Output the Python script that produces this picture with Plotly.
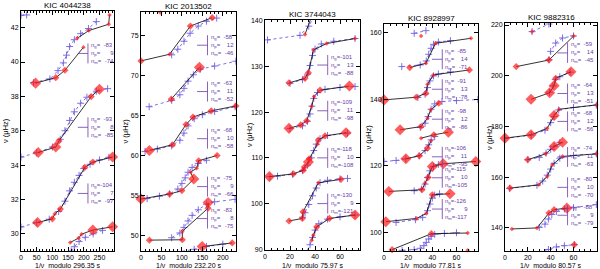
import plotly.graph_objects as go

W, H = 600, 269

# ---------------- data ----------------
titles = ["KIC 4044238", "KIC 2013502", "KIC 3744043", "KIC 8928997", "KIC 9882316"]
periods = ["296.35", "232.20", "75.97", "77.81", "80.57"]
x_max = [296.35, 232.20, 75.97, 77.81, 80.57]
y_lo = [29.0, 48.04, 89.85, 94.4, 130.9]
y_hi = [42.97, 77.96, 140.15, 162.6, 220.8]

# Panel 1  (KIC 4044238)
p1_obs_x = [[46.5, 110.8, 140, 199], [179, 216, 279.5, 282],
            [54.8, 110.8, 121, 223.7, 250],
            [52.8, 100, 107.6, 125.5, 203.5, 229, 292],
            [157, 183.5, 193, 229, 292]]
p1_obs_y = [[38.77, 39.09, 39.52, 40.86], [41.38, 41.83, 42.2, 42.74],
            [34.73, 35.05, 35.41, 37.99, 38.42],
            [30.66, 30.87, 31.16, 31.44, 33.87, 34.18, 34.47],
            [29.5, 29.75, 29.98, 30.22, 30.41]]
p1_obs_a = [[3, 2, 2, 1], [1, 1, 1, 1], [3, 3, 2, 2, 3], [3, 2, 1, 2, 2, 2, 3], [1, 1, 1, 3, 3]]
p1_mod_x = [[40, 92, 118, 135, 145, 155, 170, 190, 215, 240], [0, 18],
            [0, 50, 100, 125, 140, 155, 170, 190, 210, 240, 276],
            [0, 50, 90, 120, 140, 155, 170, 185, 200, 220, 250, 280],
            [160, 170, 185, 205, 230, 260]]
p1_mod_y = [[38.8, 39.02, 39.5, 39.95, 40.4, 40.9, 41.3, 41.65, 41.95, 42.35], [42.72, 42.74],
            [34.47, 34.72, 35.05, 35.5, 36.0, 36.6, 37.1, 37.6, 37.95, 38.3, 38.45],
            [30.4, 30.65, 30.85, 31.3, 31.9, 32.5, 33.0, 33.4, 33.8, 34.05, 34.3, 34.45],
            [29.0, 29.25, 29.55, 29.8, 30.0, 30.2]]
p1_lab_y = [40.5, 36.2, 32.35]
p1_ng = [-83, -93, -104]
p1_np = [9, 8, 7]
p1_nm = [-74, -85, -97]

# Panel 2  (KIC 2013502)
p2_obs_x = [[0, 69.8, 120.7, 174], [47], [73.9, 142.8],
            [20.5, 77, 110, 127, 171.6, 232],
            [0, 69.8, 100, 129, 121, 136, 141, 186],
            [20.5, 101, 101, 164, 164], [149.5, 223]]
p2_obs_y = [[71.84, 72.67, 76.2, 77.25], [77.9], [67.05, 71.05],
            [60.63, 61.34, 63.88, 64.8, 65.59, 66.2],
            [54.55, 55.17, 55.6, 57.05, 57.9, 58.4, 59.34, 60.0],
            [49.4, 49.45, 50.5, 53.4, 54.1], [48.6, 49.05]]
p2_obs_a = [[2, 1, 2, 2], [1], [2, 3], [3, 2, 2, 2, 2, 2], [3, 2, 2, 3, 1, 1, 2, 2],
            [2, 2, 1, 2, 3], [3, 2]]
p2_mod_x = [[75, 90, 105, 120, 140, 160, 185],
            [20, 75, 95, 105, 115, 128, 145, 180, 232],
            [10, 40, 75, 95, 105, 115, 130, 150, 180, 230],
            [15, 45, 70, 90, 100, 108, 115, 125, 140, 160],
            [75, 95, 105, 115, 125, 140, 160, 180, 230],
            [100, 130, 160, 200]]
p2_mod_y = [[72.6, 73.3, 74.3, 75.3, 76.2, 76.8, 77.2],
            [66.1, 66.9, 67.6, 68.4, 69.3, 70.1, 70.8, 71.2, 71.8],
            [60.5, 60.8, 61.2, 61.9, 62.8, 63.7, 64.6, 65.1, 65.5, 66.1],
            [54.6, 54.9, 55.2, 55.8, 56.5, 57.2, 57.9, 58.5, 59.0, 59.4],
            [49.7, 50.3, 51.0, 51.8, 52.5, 53.2, 53.9, 54.2, 54.5],
            [48.0, 48.25, 48.6, 48.9]]
p2_lab_y = [73.8, 68.0, 62.1, 56.1, 52.1]
p2_ng = [-58, -63, -68, -75, -83]
p2_np = [12, 11, 10, 9, 8]
p2_nm = [-46, -52, -58, -66, -75]

# Panel 3  (KIC 3744043)
p3_obs_x = [[32, 38], [19.2, 32, 34.7, 38.7, 49.3, 72],
            [19.2, 28.5, 33.3, 37.3, 39.2, 44, 67.5],
            [3.5, 22.7, 30.7, 31.5, 34.7, 35.5, 41.9, 42.7, 48, 64.8],
            [19.2, 29.9, 30.4, 42.7, 60.8],
            [37.3, 38.7, 41.3, 51.5, 72]]
p3_obs_y = [[137.0, 141.5], [126.4, 127.4, 128.6, 133.6, 135.0, 136.1],
            [116.45, 117.2, 118.1, 121.3, 123.4, 124.8, 125.7],
            [105.9, 106.5, 107.3, 108.0, 109.1, 109.8, 113.0, 113.9, 114.8, 115.5],
            [96.2, 96.75, 98.2, 104.55, 105.3],
            [92.0, 93.1, 94.9, 96.75, 97.5]]
p3_obs_a = [[1, 0], [2, 2, 2, 1, 1, 1], [3, 2, 2, 1, 1, 2, 3],
            [3, 2, 2, 2, 3, 2, 1, 2, 2, 3], [2, 2, 2, 1, 2], [1, 1, 2, 2, 3]]
p3_mod_x = [[2, 28, 35, 38], [20, 30, 34, 36, 38, 40, 45, 55, 72],
            [20, 30, 34, 36, 37.5, 39, 42, 48, 60, 72],
            [4, 10, 22, 30, 34, 37, 39, 41, 44, 50, 66],
            [30, 32, 35, 38, 41, 44, 50, 60, 66],
            [34, 36, 38, 40, 43, 50, 60, 72]]
p3_mod_y = [[135.8, 136.8, 138.8, 140.3], [126.3, 127.1, 128.3, 130.2, 132.4, 133.8, 134.9, 135.5, 136.1],
            [116.4, 117.0, 118.0, 119.6, 121.3, 123.0, 124.3, 125.0, 125.4, 125.6],
            [105.9, 106.0, 106.4, 107.2, 108.4, 110.0, 111.6, 113.0, 114.2, 114.9, 115.4],
            [97.0, 98.0, 99.8, 101.7, 103.4, 104.6, 105.1, 105.4, 105.5],
            [89.8, 91.0, 92.6, 94.2, 95.6, 96.6, 97.1, 97.5]]
p3_lab_y = [130.3, 120.3, 110.0, 100.0]
p3_ng = [-101, -109, -118, -130]
p3_np = [13, 11, 10, 9]
p3_nm = [-88, -98, -108, -121]

# Panel 4  (KIC 8928997)
p4_obs_x = [[30.7], [21.3, 34.7, 42.7, 72], [0, 26.7, 34.7, 36, 40.8, 70.7],
            [13.3, 30.7, 36, 38.7, 45.3], [18.1, 29.3, 36, 39], [30.7, 41.3, 53.3],
            [4, 31.5, 34, 36.5, 40, 49, 76], [1.5, 27, 35, 40, 54.7],
            [6.7, 39.2, 69.3], [69.3]]
p4_obs_y = [[159.0], [149.5, 150.8, 156.8, 158.3], [139.8, 140.6, 141.8, 144.5, 147.3, 148.8],
            [130.8, 131.8, 134.3, 136.8, 138.8], [122.1, 123.0, 125.3, 127.5], [128.3, 129.3, 130.1],
            [112.3, 112.8, 114.8, 116.5, 119.8, 120.6, 121.3], [103.2, 104.2, 105.7, 111.3, 111.6],
            [94.8, 99.6, 99.8], [94.6]]
p4_obs_a = [[1], [2, 1, 1, 1], [3, 2, 2, 1, 1, 2], [3, 2, 1, 1, 2], [3, 2, 2, 1], [1, 2, 3],
            [3, 2, 1, 2, 3, 3, 3], [3, 1, 1, 2, 3], [2, 2, 1], [1]]
p4_mod_x = [[25, 34.7], [14.7, 30, 35, 37, 39, 41, 45, 55],
            [28, 34, 36, 38, 41, 45, 55],
            [30, 34, 36.5, 39, 42, 48, 60, 77.8],
            [0, 10, 18, 29, 34, 37, 39, 42],
            [25, 31, 34, 36, 38, 41, 45],
            [10, 26, 32, 36, 38, 40, 42, 46],
            [15, 25, 30, 33, 35, 37, 39, 42, 50, 60]]
p4_mod_y = [[159.8, 160.6], [149.8, 150.3, 151.5, 153.5, 155.3, 156.5, 157.2, 157.6],
            [140.5, 141.5, 143.5, 145.5, 147.0, 147.6, 148.2],
            [131.5, 132.8, 134.8, 137.0, 138.6, 139.3, 139.6, 139.9],
            [121.3, 121.6, 122.1, 123.0, 124.6, 126.3, 127.8, 128.8],
            [112.5, 113.0, 114.5, 116.5, 118.5, 119.8, 120.4],
            [103.0, 103.8, 104.5, 106.5, 108.5, 110.3, 111.2, 111.6],
            [94.6, 94.8, 95.2, 96.0, 97.0, 98.0, 98.8, 99.4, 99.7, 99.9]]
p4_lab_y = [152.0, 143.0, 134.0, 122.7, 116.4, 107.0]
p4_ng = [-85, -91, -98, -106, -115, -126]
p4_np = [14, 13, 12, 11, 10, 9]
p4_nm = [-71, -78, -86, -95, -105, -117]

# Panel 5  (KIC 9882316)
p5_obs_x = [[23.7], [9.8, 38.5, 60.2], [22.8, 39.1, 43, 44.4, 57.8],
            [0, 22.8, 37, 43, 47.4, 80], [19.9, 35.6, 43, 50.4],
            [4.4, 29.6, 37, 41.5, 50.4, 80], [6, 28.1, 38.5, 43, 54.2], [60.7]]
p5_obs_y = [[217.4], [203.6, 206.2, 215.7], [190.7, 193.3, 196.1, 199.0, 201.6],
            [175.4, 176.7, 179.3, 184.3, 186.8, 188.5], [166.9, 169.2, 172.1, 173.8],
            [155.7, 157.0, 160.3, 164.9, 168.2, 169.2], [139.6, 140.0, 145.9, 147.2, 147.8], [133.4]]
p5_obs_a = [[1], [2, 2, 1], [3, 3, 3, 2, 3], [3, 3, 1, 3, 1, 1], [2, 1, 3, 3],
            [2, 1, 1, 1, 1, 1], [1, 1, 2, 2, 3], [2]]
p5_mod_x = [[23.7, 38.5], [38.5, 40, 44.4, 50.4, 60], [39, 42, 44, 48, 57],
            [0, 23, 35, 40, 43, 47, 60, 80], [20, 30, 36, 40, 43, 48],
            [4, 28, 33, 37, 40, 43, 48, 60, 80],
            [30, 35, 38, 41, 45, 52, 60, 80], [30, 38, 45, 52, 60.7]]
p5_mod_y = [[217.4, 220.4], [206.3, 209.6, 212.9, 214.9, 215.7], [193.5, 196.0, 198.5, 199.6, 201.4],
            [175.3, 176.6, 178.5, 181.5, 184.0, 186.5, 187.5, 188.4], [166.9, 167.8, 169.5, 171.0, 172.2, 173.6],
            [155.6, 156.8, 158.5, 160.8, 163.2, 165.5, 167.5, 168.6, 169.2],
            [140.2, 141.5, 143.5, 145.3, 146.5, 147.5, 148.0, 149.2], [130.5, 131.5, 132.5, 133.0, 133.4]]
p5_lab_y = [209.0, 193.0, 182.0, 168.0, 156.0, 145.0]
p5_ng = [-59, -64, -68, -74, -80, -88]
p5_np = [14, 13, 12, 11, 10, 9]
p5_nm = [-45, -51, -56, -63, -70, -79]

x_dtick = [50, 50, 20, 20, 20]
x_minor = [10, 10, 5, 5, 5]
y_dtick = [2, 5, 10, 20, 20]

# ---------------- style ----------------
FONT = "Liberation Sans"
RED = "#ff1a1a"
BLUE = "#7060e0"
PURPLE = "#6a3caa"
# panel boxes in page pixels: (left, right, top, bottom)
panel_px = [(21, 114, 11, 251), (141, 236, 12, 251), (265, 360, 20, 250),
            (384, 478, 24, 251), (505, 597, 23, 251)]
bar_frac = [0.72, 0.70, 0.66, 0.62, 0.68]
size_map = {0: 0, 1: 3.5, 2: 5.5, 3: 8.5}

panels = [
    (p1_obs_x, p1_obs_y, p1_obs_a, p1_mod_x, p1_mod_y, p1_lab_y, p1_ng, p1_np, p1_nm),
    (p2_obs_x, p2_obs_y, p2_obs_a, p2_mod_x, p2_mod_y, p2_lab_y, p2_ng, p2_np, p2_nm),
    (p3_obs_x, p3_obs_y, p3_obs_a, p3_mod_x, p3_mod_y, p3_lab_y, p3_ng, p3_np, p3_nm),
    (p4_obs_x, p4_obs_y, p4_obs_a, p4_mod_x, p4_mod_y, p4_lab_y, p4_ng, p4_np, p4_nm),
    (p5_obs_x, p5_obs_y, p5_obs_a, p5_mod_x, p5_mod_y, p5_lab_y, p5_ng, p5_np, p5_nm),
]


def fx(px):
    return px / W


def fy(py):
    return 1 - py / H


fig = go.Figure()
annotations = []
shapes = []


def pad(v):
    return str(v).rjust(4).replace(" ", "\u2007")


for i, (ox_l, oy_l, oa_l, mx_l, my_l, lab_y, ng, npv, nm) in enumerate(panels):
    sfx = "" if i == 0 else str(i + 1)
    xr, yr = "x" + sfx, "y" + sfx
    x0, x1, t0, t1 = panel_px[i]

    for mx, my in zip(mx_l, my_l):
        fig.add_trace(go.Scatter(
            x=mx, y=my, xaxis=xr, yaxis=yr, mode="lines+markers", showlegend=False,
            line=dict(color=BLUE, width=0.9, dash="dot"),
            marker=dict(symbol="cross-thin", size=5, line=dict(color=BLUE, width=0.9)),
            hoverinfo="skip"))
    for ox, oy, oa in zip(ox_l, oy_l, oa_l):
        fig.add_trace(go.Scatter(
            x=ox, y=oy, xaxis=xr, yaxis=yr, mode="lines", showlegend=False,
            line=dict(color="black", width=0.8), hoverinfo="skip"))
        fig.add_trace(go.Scatter(
            x=ox, y=oy, xaxis=xr, yaxis=yr, mode="markers", showlegend=False,
            marker=dict(symbol="diamond", color=RED, size=[size_map[a] for a in oa],
                        line=dict(width=0)),
            cliponaxis=False, hoverinfo="skip"))

    bf = bar_frac[i]
    for ly, g, p_, m in zip(lab_y, ng, npv, nm):
        shapes.append(dict(type="line", xref=xr + " domain", yref=yr,
                           x0=bf - 0.11, x1=bf, y0=ly, y1=ly,
                           line=dict(color=PURPLE, width=0.8)))
        shapes.append(dict(type="line", xref=xr + " domain", yref=yr,
                           x0=bf, x1=bf, ysizemode="pixel", yanchor=ly, y0=-10, y1=10,
                           line=dict(color=PURPLE, width=0.8)))
        txt = ("n<sub>g</sub>=" + pad(g) + "<br>n<sub>p</sub>=" + pad(p_) +
               "<br>n<sub>m</sub>=" + pad(m))
        annotations.append(dict(xref=xr + " domain", yref=yr, x=bf, y=ly, xshift=1,
                                xanchor="left", yanchor="middle", align="left",
                                showarrow=False, text=txt,
                                font=dict(size=6, family=FONT, color=PURPLE)))

    xd = [fx(x0), fx(x1)]
    yd = [fy(t1), fy(t0)]
    common = dict(showline=True, linecolor="black", linewidth=1, mirror="allticks",
                  ticks="inside", ticklen=4, tickwidth=0.8, tickcolor="black",
                  showgrid=False, zeroline=False,
                  tickfont=dict(size=7, family=FONT, color="black"))
    fig.layout["xaxis" + sfx] = dict(
        domain=xd, range=[0, x_max[i]], anchor=yr, tick0=0, dtick=x_dtick[i],
        minor=dict(dtick=x_minor[i], ticks="inside", ticklen=2, tickcolor="black",
                   tickwidth=0.6, showgrid=False), **common)
    fig.layout["yaxis" + sfx] = dict(
        domain=yd, range=[y_lo[i], y_hi[i]], anchor=xr, tick0=0, dtick=y_dtick[i], **common)

    cx = fx((x0 + x1) / 2)
    annotations.append(dict(xref="paper", yref="paper", x=cx, y=fy(t0 - 5.5),
                            xanchor="center", yanchor="middle", showarrow=False,
                            text=titles[i], font=dict(size=8, family=FONT, color="black")))
    annotations.append(dict(xref="paper", yref="paper", x=cx, y=fy(265.5),
                            xanchor="center", yanchor="middle", showarrow=False,
                            text="1/\u03bd  modulo " + periods[i] + " s",
                            font=dict(size=7, family=FONT, color="black")))
    annotations.append(dict(xref="paper", yref="paper", x=fx(x0 - 16),
                            y=fy((t0 + t1) / 2), textangle=-90,
                            xanchor="center", yanchor="middle", showarrow=False,
                            text="\u03bd (\u03bcHz)",
                            font=dict(size=7.5, family=FONT, color="black")))

fig.update_layout(width=W, height=H, margin=dict(l=0, r=0, t=0, b=0, autoexpand=False),
                  paper_bgcolor="white", plot_bgcolor="white",
                  annotations=annotations, shapes=shapes, showlegend=False)
# remove the browser's default 8px body margin so the figure sits at the page corner
fig.write_html("out.html", config={"displayModeBar": False},
               post_script="document.body.style.margin='0px';")
